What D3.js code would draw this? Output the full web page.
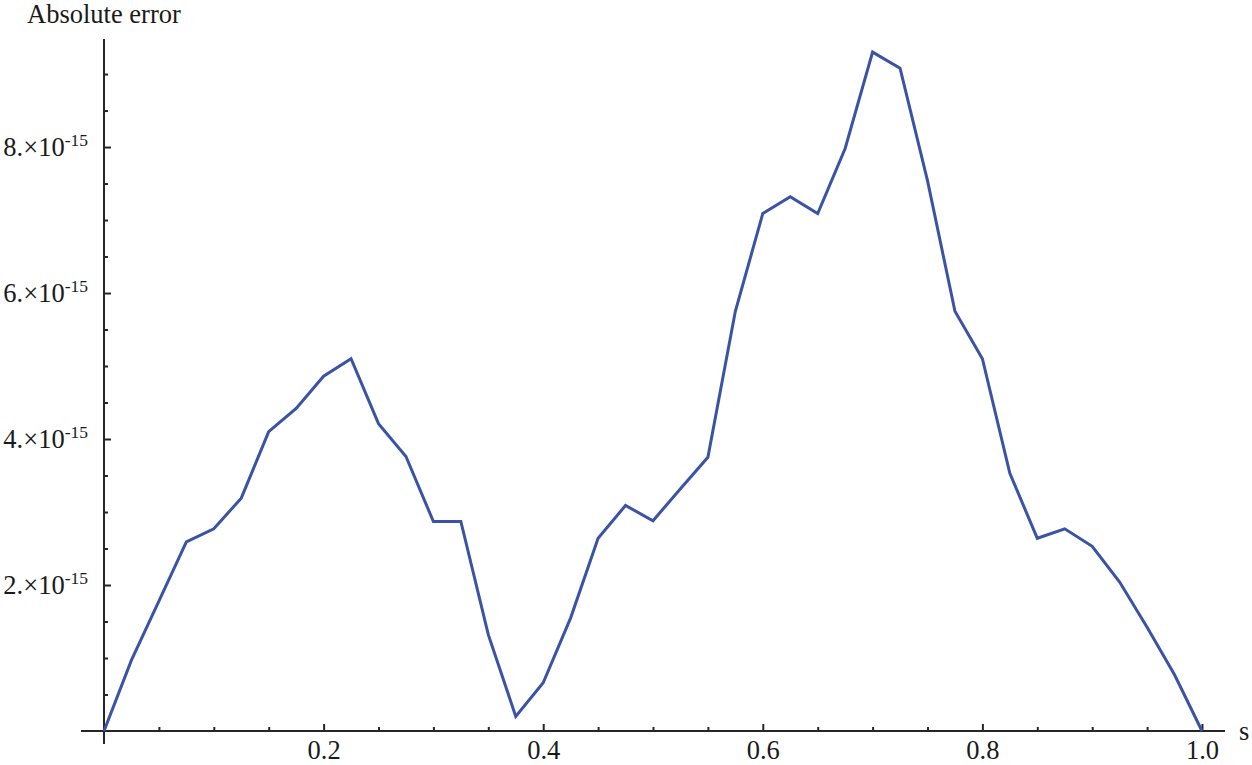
<!DOCTYPE html>
<html>
<head>
<meta charset="utf-8">
<script src="https://cdn.jsdelivr.net/npm/d3@7"></script>
<style>
  body { margin: 0; background: #fff; }
  text { font-family: "Liberation Serif", "Times New Roman", serif; fill: #1a1a1a; }
</style>
</head>
<body>
<div id="chart"></div>
<script>
// sample points (s) and absolute error in units of 1e-15
var sValues = [0, 0.025, 0.05, 0.075, 0.1, 0.125, 0.15, 0.175, 0.2, 0.225,
	0.25, 0.275, 0.3, 0.325, 0.35, 0.375, 0.4, 0.425, 0.45, 0.475,
	0.5, 0.525, 0.55, 0.575, 0.6, 0.625, 0.65, 0.675, 0.7, 0.725,
	0.75, 0.775, 0.8, 0.825, 0.85, 0.875, 0.9, 0.925, 0.95, 0.975, 1.0];
var errValues = [0, 0.97, 1.78, 2.59, 2.77, 3.19, 4.10, 4.42, 4.86, 5.10,
	4.21, 3.76, 2.87, 2.87, 1.32, 0.20, 0.66, 1.55, 2.64, 3.09,
	2.88, 3.32, 3.75, 5.75, 7.09, 7.32, 7.09, 7.98, 9.30, 9.08,
	7.54, 5.75, 5.10, 3.53, 2.64, 2.77, 2.53, 2.04, 1.42, 0.77, 0];

var xMajorTicks = [0.2, 0.4, 0.6, 0.8, 1.0];
var xMinorTicks = [0.05, 0.1, 0.15, 0.25, 0.3, 0.35, 0.45, 0.5, 0.55, 0.65, 0.7, 0.75, 0.85, 0.9, 0.95];
var yMajorTicks = [2, 4, 6, 8];
var yMinorTicks = [0.5, 1, 1.5, 2.5, 3, 3.5, 4.5, 5, 5.5, 6.5, 7, 7.5, 8.5, 9];
var yLabels = ["2.\u00d710", "4.\u00d710", "6.\u00d710", "8.\u00d710"];

var width = 1252, height = 765;
var axisColor = "#262626";
var fontSize = 26.5;

var svg = d3.select("#chart").append("svg")
	.attr("width", width)
	.attr("height", height);

var x = d3.scaleLinear().domain([0, 1]).range([104, 1202]);
var y = d3.scaleLinear().domain([0, 9.48]).range([731, 39]);

// axis lines (slightly extended past the origin like the original)
svg.append("line")
	.attr("x1", 81).attr("x2", 1225)
	.attr("y1", y(0)).attr("y2", y(0))
	.attr("stroke", axisColor).attr("stroke-width", 2);
svg.append("line")
	.attr("x1", x(0)).attr("x2", x(0))
	.attr("y1", y(9.48)).attr("y2", 744)
	.attr("stroke", axisColor).attr("stroke-width", 2);

// x ticks
var xMajor = svg.append("g")
	.attr("transform", "translate(0," + y(0) + ")")
	.call(d3.axisBottom(x).tickValues(xMajorTicks).tickSize(-7).tickPadding(28)
		.tickFormat(d3.format(".1f")));
var xMinor = svg.append("g")
	.attr("transform", "translate(0," + y(0) + ")")
	.call(d3.axisBottom(x).tickValues(xMinorTicks).tickSize(-4).tickFormat(""));

// y ticks
var yMajor = svg.append("g")
	.attr("transform", "translate(" + x(0) + ",0)")
	.call(d3.axisLeft(y).tickValues(yMajorTicks).tickSize(-7).tickFormat(""));
var yMinor = svg.append("g")
	.attr("transform", "translate(" + x(0) + ",0)")
	.call(d3.axisLeft(y).tickValues(yMinorTicks).tickSize(-4).tickFormat(""));

[xMajor, xMinor, yMajor, yMinor].forEach(function(g) {
	g.select(".domain").remove();
	g.selectAll(".tick line").attr("stroke", axisColor).attr("stroke-width", 2);
	g.selectAll(".tick text")
		.attr("font-family", "Liberation Serif")
		.attr("font-size", fontSize)
		.attr("fill", "#1a1a1a");
});
xMajor.selectAll(".tick text").attr("dy", "0");

// y tick labels with superscript exponent
var yLab = svg.selectAll(".ylabel").data(yMajorTicks)
	.enter()
	.append("text")
	.attr("class", "ylabel")
	.attr("x", 88)
	.attr("y", function(d) { return y(d) + 9; })
	.attr("text-anchor", "end")
	.attr("font-size", fontSize);
yLab.append("tspan")
	.text(function(d, i) { return yLabels[i]; });
yLab.append("tspan")
	.attr("dy", -10)
	.attr("font-size", 17.5)
	.text("-15");

// axis titles
svg.append("text")
	.attr("x", 27).attr("y", 23)
	.attr("font-size", fontSize)
	.text("Absolute error");
svg.append("text")
	.attr("x", 1239).attr("y", 740)
	.attr("font-size", fontSize)
	.text("s");

// the error curve
var line = d3.line()
	.x(function(d, i) { return x(sValues[i]); })
	.y(function(d) { return y(d); });

svg.append("path")
	.datum(errValues)
	.attr("d", line)
	.attr("fill", "none")
	.attr("stroke", "#3a53a4")
	.attr("stroke-width", 3)
	.attr("stroke-linejoin", "miter");
</script>
</body>
</html>
